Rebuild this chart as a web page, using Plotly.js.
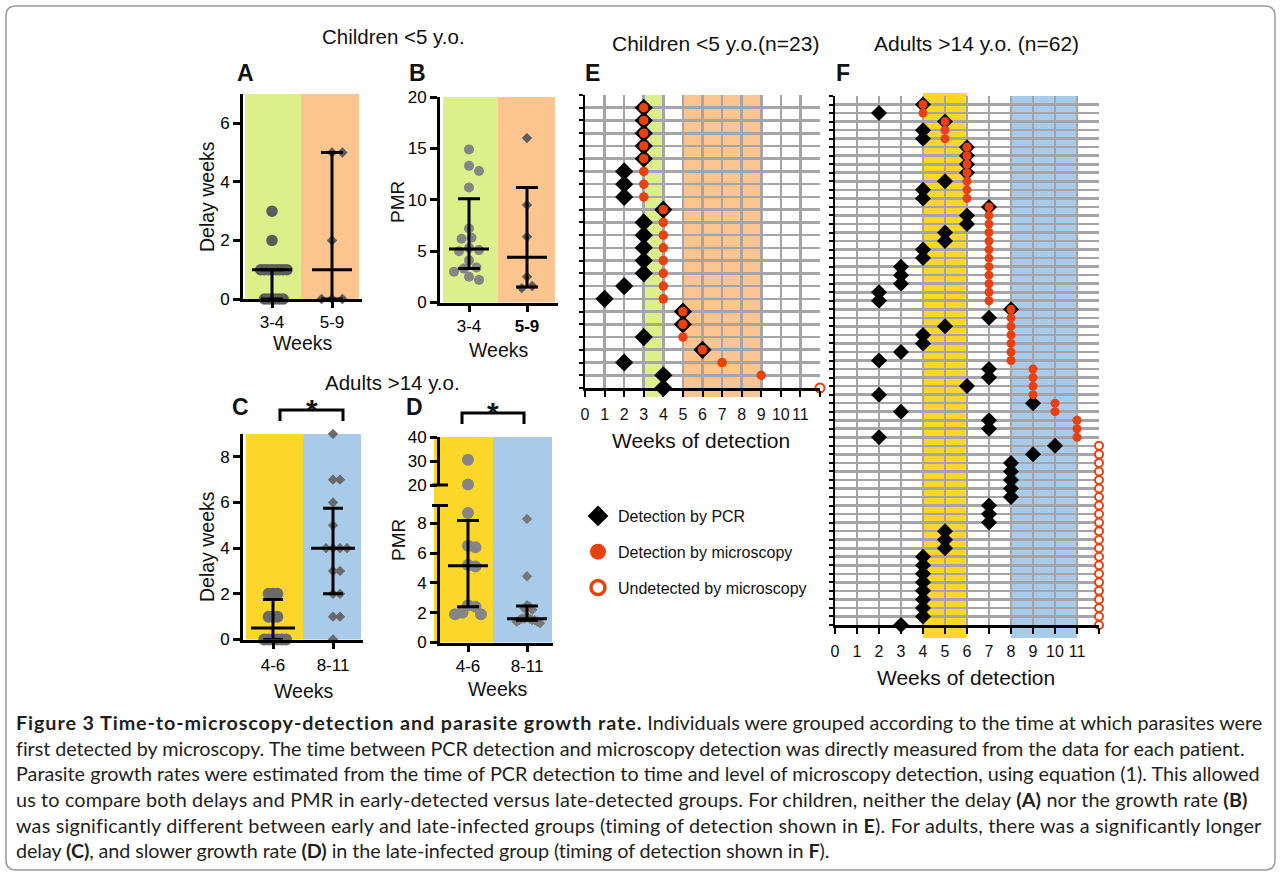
<!DOCTYPE html>
<html>
<head>
<meta charset="utf-8">
<script src="https://cdn.plot.ly/plotly-3.0.1.min.js"></script>
<style>
html,body{margin:0;padding:0;background:#ffffff;}
#chart{width:1281px;height:876px;}
</style>
</head>
<body>
<div id="chart"></div>
<script>
// ================= DATA =================
const childGroups = ['3-4', '<b>5-9</b>'];
const childGroupsA = ['3-4', '5-9'];
const adultGroups = ['4-6', '8-11'];

// A: delay (weeks) PCR -> microscopy, children
const delayChildEarly = [3, 2, 1, 1, 1, 1, 1, 1, 1, 1, 0, 0, 0, 0, 0, 0];
const delayChildLate = [5, 5, 2, 0, 0, 0];
const delayChildMedian = [1, 1];
const delayChildLow = [0, 0];
const delayChildHigh = [1, 5];

// B: PMR, children
const pmrChildEarly = [14.9, 13.3, 12.8, 11.2, 7.2, 6.3, 6.2, 5.3, 5.1, 5.0, 4.1, 3.4, 3.3, 3.0, 2.5, 2.2];
const pmrChildLate = [16.0, 9.5, 6.4, 2.5, 1.6, 1.4];
const pmrChildMedian = [5.2, 4.4];
const pmrChildLow = [3.3, 1.5];
const pmrChildHigh = [10.1, 11.2];

// C: delay, adults
const delayAdultEarly = [2, 2, 1, 0, 0, 0, 0, 1, 1, 0, 2, 0];
const delayAdultLate = [9, 4, 4, 7, 1, 7, 3, 2, 2, 6, 5, 4, 4, 3, 1, 0];
const delayAdultMedian = [0.5, 4];
const delayAdultLow = [0, 2];
const delayAdultHigh = [1.75, 5.75];

// D: PMR, adults
const pmrAdultEarly = [30.5, 20.2, 8.7, 6.5, 6.4, 5.2, 5.1, 2.5, 2.4, 2.0, 1.9, 1.9];
const pmrAdultLate = [8.3, 4.45, 2.5, 2.4, 2.3, 2.2, 1.7, 1.6, 1.6, 1.6, 1.5, 1.5, 1.5, 1.4, 1.4, 1.3];
const pmrAdultMedian = [5.15, 1.6];
const pmrAdultLow = [2.4, 1.5];
const pmrAdultHigh = [8.2, 2.45];

// E: children (n=23), one entry per child, bottom row first; null = undetected by microscopy
const childPcrWeek   = [4, 4, 2, 6, 3, 5, 5, 1, 2, 3, 3, 3, 3, 3, 4, 2, 2, 2, 3, 3, 3, 3, 3];
const childMicroWeek = [null, 9, 7, 6, 5, 5, 5, 4, 4, 4, 4, 4, 4, 4, 4, 3, 3, 3, 3, 3, 3, 3, 3];

// F: adults (n=62), bottom row first
const adultPcrWeek = [3, 4, 4, 4, 4, 4, 4, 4, 4, 5, 5, 5, 7, 7, 7, 8, 8, 8, 8, 8, 9, 10,
  2, 7, 7, 3, 9, 2, 6, 7, 7, 2, 3, 4, 4, 5, 7, 8, 2, 2, 3, 3, 3, 4, 4, 5, 5, 6, 6, 7,
  4, 4, 5, 6, 6, 6, 6, 4, 4, 5, 2, 4];
const adultMicroWeek = [null, null, null, null, null, null, null, null, null, null, null,
  null, null, null, null, null, null, null, null, null, null, null,
  11, 11, 11, 10, 10, 9, 9, 9, 9, 8, 8, 8, 8, 8, 8, 8,
  7, 7, 7, 7, 7, 7, 7, 7, 7, 7, 7, 7,
  6, 6, 6, 6, 6, 6, 6, 5, 5, 5, 4, 4];

const weekTickVals = [0, 1, 2, 3, 4, 5, 6, 7, 8, 9, 10, 11, 12];
const weekTickText = ['0', '1', '2', '3', '4', '5', '6', '7', '8', '9', '10', '11', ''];
const undetectedWeek = 12;

const legendNames = ['Detection by PCR', 'Detection by microscopy', 'Undetected by microscopy'];

const captionLines = [
  '<b><span style="letter-spacing:0.9px">Figure 3 Time-to-microscopy-detection and parasite growth rate.</span></b> Individuals were grouped according to the time at which parasites were',
  '<span style="letter-spacing:-0.05px">first detected by microscopy. The time between PCR detection and microscopy detection was directly measured from the data for each patient.</span>',
  'Parasite growth rates were estimated from the time of PCR detection to time and level of microscopy detection, using equation (1). This allowed',
  '<span style="letter-spacing:0.15px">us to compare both delays and PMR in early-detected versus late-detected groups. For children, neither the delay <b>(A)</b> nor the growth rate <b>(B)</b></span>',
  '<span style="letter-spacing:0.2px">was significantly different between early and late-infected groups (timing of detection shown in <b>E</b>). For adults, there was a significantly longer</span>',
  '<span style="letter-spacing:-0.1px">delay <b>(C)</b>, and slower growth rate <b>(D)</b> in the late-infected group (timing of detection shown in <b>F</b>).</span>'
];

// ================= LAYOUT HELPERS =================
const W = 1281, H = 876;
const FONT = "Arial, 'Liberation Sans', sans-serif";
const fx = p => p / W;
const fy = p => 1 - p / H;
const P = (x, y) => fx(x) + ',' + fy(y);

const GREEN = '#dcef8b', ORANGE = '#fcc48e', YELLOW = '#fdd62a', BLUE = '#a9cbea';
const RED = '#e8410f', GRID = '#a4a4a9';

function catGeom(left, right, c0, c1) {
  const u = c1 - c0;
  return { domain: [fx(left), fx(right)], range: [-(c0 - left) / u, 1 + (right - c1) / u], u: u };
}

function swarm(vals, pxPerY, diam, maxHalf) {
  const order = vals.map((v, i) => i).sort((a, b) => vals[b] - vals[a]);
  const placed = [];
  const off = new Array(vals.length).fill(0);
  const step = diam / 4;
  order.forEach(i => {
    const y = vals[i] * pxPerY;
    let chosen = 0;
    for (let k = 0; k < 400; k++) {
      const c = k === 0 ? 0 : (k % 2 ? 1 : -1) * Math.ceil(k / 2) * step;
      if (placed.every(p => Math.hypot(p.x - c, p.y - y) >= diam * 0.95)) { chosen = c; break; }
    }
    placed.push({ x: chosen, y: y });
    off[i] = chosen;
  });
  const m = Math.max(0, ...off.map(Math.abs));
  const s = m > maxHalf ? maxHalf / m : 1;
  return off.map(o => o * s);
}

function dotTrace(vals, cat, xa, ya, pxY, pxX, symbol, color, size, maxHalf) {
  const diam = symbol === 'diamond' ? size * 1.3 : size;
  const off = swarm(vals, pxY, diam, maxHalf);
  return {
    type: 'scatter', mode: 'markers', xaxis: xa, yaxis: ya,
    x: vals.map((v, i) => cat + off[i] / pxX), y: vals,
    marker: { symbol: symbol, color: color, size: size, line: { width: 0 } },
    cliponaxis: false, showlegend: false, hoverinfo: 'skip'
  };
}

function summaryTrace(med, lo, hi, xa, ya, halfLen, capHalf) {
  return {
    type: 'scatter', mode: 'markers', xaxis: xa, yaxis: ya,
    x: [0, 1], y: med,
    marker: { symbol: 'line-ew', size: halfLen * 2 / 1.4, color: '#000', line: { width: 3, color: '#000' } },
    error_y: {
      type: 'data', symmetric: false,
      array: hi.map((h, i) => h - med[i]), arrayminus: med.map((m, i) => m - lo[i]),
      color: '#000', thickness: 3, width: capHalf
    },
    cliponaxis: false, showlegend: false, hoverinfo: 'skip'
  };
}

function gridTraces(pcr, micro, xa, ya, dSize, cSize, oSize) {
  const rows = pcr.map((_, i) => i);
  const det = rows.filter(i => micro[i] !== null);
  const und = rows.filter(i => micro[i] === null);
  const base = { type: 'scatter', mode: 'markers', xaxis: xa, yaxis: ya, cliponaxis: false, showlegend: false, hoverinfo: 'skip' };
  return [
    Object.assign({}, base, { x: pcr, y: rows, marker: { symbol: 'diamond', size: dSize, color: '#000', line: { width: 0 } } }),
    Object.assign({}, base, { x: det.map(i => micro[i]), y: det, marker: { symbol: 'circle', size: cSize, color: RED, line: { width: 0 } } }),
    Object.assign({}, base, { x: und.map(() => undetectedWeek), y: und, marker: { symbol: 'circle', size: oSize, color: '#fff', line: { color: RED, width: 2 } } })
  ];
}

// ---- panel geometry (pixels) ----
const gA = catGeom(243, 362, 272, 332); const yA = { top: 94, bot: 299, range: [0, 7] };
const gB = catGeom(440, 558, 469, 527); const yB = { top: 97, bot: 302.5, range: [0, 20] };
const gC = catGeom(243, 363, 273, 333); const yC = { top: 434, bot: 639.5, range: [0, 9] };
const gD = catGeom(440, 553, 468, 527);
const yDlo = { top: 505.5, bot: 642.5, range: [0, 9.2] };
const yDhi = { top: 437, bot: 485, range: [20, 40] };
const pxy = g => (g.bot - g.top) / (g.range[1] - g.range[0]);

// ================= TRACES =================
const DARK = '#5c5c5c', MID = '#858585', MID2 = '#6a6a6a';
const traces = [];
// A
traces.push(dotTrace(delayChildEarly, 0, 'x', 'y', pxy(yA), gA.u, 'circle', DARK, 11.5, 15));
traces.push(dotTrace(delayChildLate, 1, 'x', 'y', pxy(yA), gA.u, 'diamond', DARK, 8, 12));
traces.push(summaryTrace(delayChildMedian, delayChildLow, delayChildHigh, 'x', 'y', 20, 11));
// B
traces.push(dotTrace(pmrChildEarly, 0, 'x2', 'y2', pxy(yB), gB.u, 'circle', MID, 10, 15));
traces.push(dotTrace(pmrChildLate, 1, 'x2', 'y2', pxy(yB), gB.u, 'diamond', DARK, 8, 12));
traces.push(summaryTrace(pmrChildMedian, pmrChildLow, pmrChildHigh, 'x2', 'y2', 20, 11));
// C
traces.push(dotTrace(delayAdultEarly, 0, 'x3', 'y3', pxy(yC), gC.u, 'circle', MID2, 12, 13));
traces.push(dotTrace(delayAdultLate, 1, 'x3', 'y3', pxy(yC), gC.u, 'diamond', MID2, 8, 14));
traces.push(summaryTrace(delayAdultMedian, delayAdultLow, delayAdultHigh, 'x3', 'y3', 22, 10));
// D (broken axis)
const dLoE = pmrAdultEarly.filter(v => v <= yDlo.range[1]);
const dHiE = pmrAdultEarly.filter(v => v > yDlo.range[1]);
const dLoL = pmrAdultLate.filter(v => v <= yDlo.range[1]);
const dHiL = pmrAdultLate.filter(v => v > yDlo.range[1]);
traces.push(dotTrace(dLoE, 0, 'x4', 'y4', pxy(yDlo), gD.u, 'circle', MID, 12, 13));
if (dHiE.length) traces.push(dotTrace(dHiE, 0, 'x4', 'y5', pxy(yDhi), gD.u, 'circle', MID, 12, 13));
traces.push(dotTrace(dLoL, 1, 'x4', 'y4', pxy(yDlo), gD.u, 'diamond', '#777777', 8, 13));
if (dHiL.length) traces.push(dotTrace(dHiL, 1, 'x4', 'y5', pxy(yDhi), gD.u, 'diamond', '#777777', 8, 13));
traces.push(summaryTrace(pmrAdultMedian, pmrAdultLow, pmrAdultHigh, 'x4', 'y4', 20, 11));
// E, F
gridTraces(childPcrWeek, childMicroWeek, 'x5', 'y6', 14, 9.5, 9).forEach(t => traces.push(t));
gridTraces(adultPcrWeek, adultMicroWeek, 'x6', 'y7', 12.3, 9, 8).forEach(t => traces.push(t));
// legend entries
const legMarkers = [
  { symbol: 'diamond', size: 16, color: '#000', line: { width: 0 } },
  { symbol: 'circle', size: 16, color: RED, line: { width: 0 } },
  { symbol: 'circle', size: 14, color: '#fff', line: { color: RED, width: 3.5 } }
];
legendNames.forEach((n, i) => traces.push({
  type: 'scatter', mode: 'markers', x: [null], y: [null], xaxis: 'x5', yaxis: 'y6',
  name: n, legendgroup: 'g' + i, marker: legMarkers[i], showlegend: true, hoverinfo: 'skip'
}));

// ================= AXES =================
const tickFont = { family: FONT, size: 17, color: '#000' };
function dotX(g, anchor, text, standoff) {
  return {
    domain: g.domain, range: g.range, anchor: anchor, tickvals: [0, 1], ticktext: text, tickangle: 0,
    showline: true, linecolor: '#000', linewidth: 3, ticks: 'outside', ticklen: 6, tickwidth: 3, tickcolor: '#000',
    ticklabelstandoff: standoff, showgrid: false, zeroline: false, fixedrange: true, tickfont: tickFont
  };
}
function dotY(g, anchor, tickvals) {
  return {
    domain: [fy(g.bot), fy(g.top)], range: g.range, anchor: anchor, tickvals: tickvals,
    showline: true, linecolor: '#000', linewidth: 3, ticks: 'outside', ticklen: 7, tickwidth: 3, tickcolor: '#000',
    showgrid: false, zeroline: false, fixedrange: true, tickfont: tickFont
  };
}
function gridX(left, right, anchor, standoff) {
  return {
    domain: [fx(left), fx(right)], range: [0, 12], anchor: anchor, tickvals: weekTickVals, ticktext: weekTickText, tickangle: 0,
    showline: true, linecolor: '#000', linewidth: 2.5, ticks: 'outside', ticklen: 6, tickwidth: 2, tickcolor: '#000',
    ticklabelstandoff: standoff, showgrid: true, gridcolor: GRID, gridwidth: 2.6, zeroline: false, fixedrange: true,
    tickfont: { family: FONT, size: 16, color: '#111' }
  };
}
function gridY(top, bot, n, anchor) {
  const tv = []; for (let i = 0; i <= n; i++) tv.push(i);
  return {
    domain: [fy(bot), fy(top)], range: [0, n], anchor: anchor, tickvals: tv, showticklabels: false,
    showline: true, linecolor: '#000', linewidth: 2.5, ticks: 'outside', ticklen: 4, tickwidth: 2, tickcolor: '#000',
    showgrid: true, gridcolor: GRID, gridwidth: 2.6, zeroline: false, fixedrange: true
  };
}

// ================= SHAPES =================
const shapes = [];
function rectPx(x0, x1, y0, y1, color) {
  shapes.push({ type: 'rect', xref: 'paper', yref: 'paper', x0: fx(x0), x1: fx(x1), y0: fy(y1), y1: fy(y0), fillcolor: color, line: { width: 0 }, layer: 'below' });
}
function bandWeeks(xa, w0, w1, y0, y1, color) {
  shapes.push({ type: 'rect', xref: xa, yref: 'paper', x0: w0, x1: w1, y0: fy(y1), y1: fy(y0), fillcolor: color, line: { width: 0 }, layer: 'below' });
}
rectPx(245, 301, yA.top, yA.bot, GREEN); rectPx(301, 359, yA.top, yA.bot, ORANGE);
rectPx(443, 498, yB.top, yB.bot, GREEN); rectPx(498, 555, yB.top, yB.bot, ORANGE);
rectPx(246, 303, yC.top, yC.bot, YELLOW); rectPx(303, 361, yC.top, yC.bot, BLUE);
rectPx(434, 493, yDhi.top, yDlo.bot, YELLOW); rectPx(493, 552, yDhi.top, yDlo.bot, BLUE);
bandWeeks('x5', 3, 4, 95, 397, GREEN); bandWeeks('x5', 5, 9, 95, 397, ORANGE);
bandWeeks('x6', 4, 6, 93, 638, YELLOW); bandWeeks('x6', 8, 11, 96, 638, BLUE);

function pathPx(d, width, color) {
  shapes.push({ type: 'path', xref: 'paper', yref: 'paper', path: d, line: { width: width, color: color }, layer: 'above' });
}
// significance brackets
pathPx('M' + P(280, 421) + ' L' + P(280, 410) + ' L' + P(343, 410) + ' L' + P(343, 421), 3, '#000');
pathPx('M' + P(462, 424) + ' L' + P(462, 413) + ' L' + P(524, 413) + ' L' + P(524, 424), 3, '#000');
// axis-break stubs on D
pathPx('M' + P(432, 485) + ' L' + P(448, 485), 3, '#000');
pathPx('M' + P(432, 505.5) + ' L' + P(448, 505.5), 3, '#000');
// outer frame with rounded corners
const r = 10, L = 6, T = 6, R = 1275, B = 870;
pathPx('M' + P(L + r, T) + ' L' + P(R - r, T) + ' Q' + P(R, T) + ' ' + P(R, T + r) + ' L' + P(R, B - r) +
  ' Q' + P(R, B) + ' ' + P(R - r, B) + ' L' + P(L + r, B) + ' Q' + P(L, B) + ' ' + P(L, B - r) +
  ' L' + P(L, T + r) + ' Q' + P(L, T) + ' ' + P(L + r, T) + ' Z', 1.5, '#9a9a9a');

// ================= ANNOTATIONS =================
const ann = [];
function txt(t, x, y, size, opts) {
  ann.push(Object.assign({
    text: t, x: fx(x), y: fy(y), xref: 'paper', yref: 'paper', showarrow: false,
    xanchor: 'center', yanchor: 'middle', font: { family: FONT, size: size, color: '#111' }
  }, opts || {}));
}
txt('Children &lt;5 y.o.', 393, 37, 20.5);
txt('Adults &gt;14 y.o.', 392, 382, 20.5);
txt('<b>A</b>', 245, 73, 23); txt('<b>B</b>', 418, 73, 23);
txt('<b>C</b>', 241, 407, 23); txt('<b>D</b>', 414, 407, 23);
txt('Delay weeks', 207, 197, 19.5, { textangle: -90 });
txt('PMR', 398, 202, 19, { textangle: -90 });
txt('Delay weeks', 207, 547, 19.5, { textangle: -90 });
txt('PMR', 398, 540, 19, { textangle: -90 });
txt('Weeks', 302, 343, 19.5); txt('Weeks', 498, 350, 19.5);
txt('Weeks', 303, 691, 19.5); txt('Weeks', 497, 689, 19.5);
txt('<b>*</b>', 312, 409, 30); txt('<b>*</b>', 493, 412, 30);
txt('Children &lt;5 y.o.(n=23)', 716, 43, 21);
txt('Adults &gt;14 y.o. (n=62)', 976, 43, 21);
txt('<b>E</b>', 592, 73, 23); txt('<b>F</b>', 843, 73, 23);
txt('Weeks of detection', 701, 440, 21);
txt('Weeks of detection', 966, 677, 21);
const capY = [722, 748, 773, 799, 825, 850];
captionLines.forEach((l, i) => txt(l, 14, capY[i], 19.8, { xanchor: 'left', font: { family: "Lato, 'Noto Sans', sans-serif", size: 19.8, color: '#231f20' } }));

// ================= LAYOUT =================
const layout = {
  width: W, height: H, margin: { l: 0, r: 0, t: 0, b: 0 },
  paper_bgcolor: '#ffffff', plot_bgcolor: 'rgba(0,0,0,0)',
  showlegend: true,
  legend: {
    x: fx(578), y: fy(499), xanchor: 'left', yanchor: 'top', bgcolor: 'rgba(0,0,0,0)',
    font: { family: FONT, size: 16, color: '#111' }, tracegroupgap: 12, traceorder: 'grouped'
  },
  xaxis: dotX(gA, 'y', childGroupsA, 0), yaxis: dotY(yA, 'x', [0, 2, 4, 6]),
  xaxis2: dotX(gB, 'y2', childGroups, 0), yaxis2: dotY(yB, 'x2', [0, 5, 10, 15, 20]),
  xaxis3: dotX(gC, 'y3', adultGroups, 2), yaxis3: dotY(yC, 'x3', [0, 2, 4, 6, 8]),
  xaxis4: dotX(gD, 'y4', adultGroups, 0), yaxis4: dotY(yDlo, 'x4', [0, 2, 4, 6, 8]),
  yaxis5: dotY(yDhi, 'x4', [20, 30, 40]),
  xaxis5: gridX(585, 820, 'y6', 4), yaxis6: gridY(95, 388, 23, 'x5'),
  xaxis6: gridX(835, 1099, 'y7', 4), yaxis7: gridY(96, 625, 62, 'x6'),
  shapes: shapes, annotations: ann
};

Plotly.newPlot('chart', traces, layout, { staticPlot: true, displayModeBar: false });
</script>
</body>
</html>
